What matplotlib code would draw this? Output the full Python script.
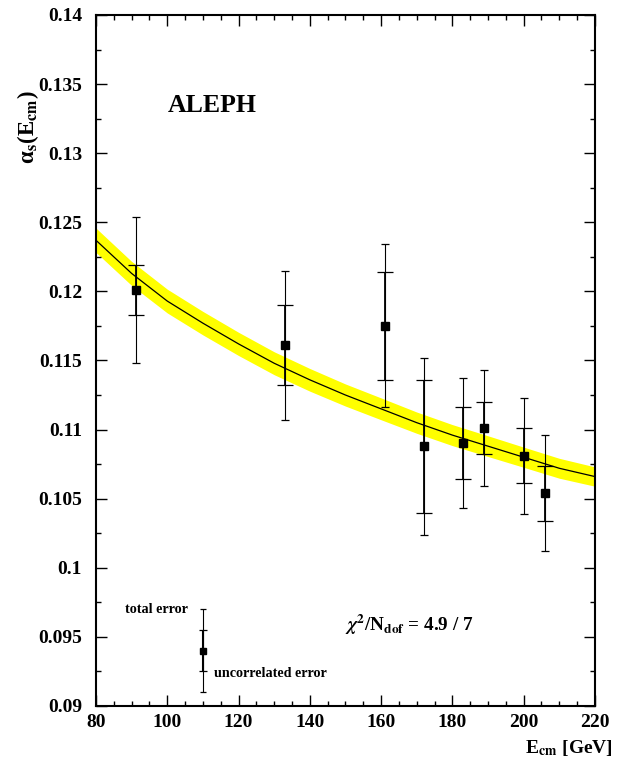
import matplotlib
matplotlib.use('Agg')
import matplotlib.pyplot as plt
from matplotlib.ticker import MultipleLocator, FormatStrFormatter

plt.rcParams['font.family'] = ['Liberation Serif', 'DejaVu Serif']
plt.rcParams['font.weight'] = 'bold'
plt.rcParams['mathtext.fontset'] = 'stix'

# 数据点 (E_cm, alpha_s, 总误差, 不相关误差)
energy = [91.2, 133.0, 161.0, 172.0, 183.0, 189.0, 200.0, 206.0]
alpha_s = [0.1201, 0.1161, 0.1175, 0.1088, 0.1090, 0.1101, 0.1081, 0.1054]
err_total = [0.0053, 0.0054, 0.0059, 0.0064, 0.0047, 0.0042, 0.0042, 0.0042]
err_uncorr = [0.0018, 0.0029, 0.0039, 0.0048, 0.0026, 0.0019, 0.0020, 0.0020]

# 拟合曲线和误差带
fit_e = [80, 90, 100, 110, 120, 130, 140, 150, 160, 170, 180, 190, 200, 210, 220]
fit_alpha = [0.1237, 0.1213, 0.1193, 0.1177, 0.1162, 0.1148, 0.1136, 0.1125,
             0.1115, 0.1105, 0.1096, 0.1088, 0.1080, 0.1072, 0.1066]
fit_band = [0.00088, 0.00087, 0.00086, 0.00085, 0.00084, 0.00083, 0.00082, 0.00080,
            0.00079, 0.00077, 0.00076, 0.00075, 0.00073, 0.00072, 0.00070]

# 图例用的示例点
legend_e = [110]
legend_alpha = [0.094]
legend_total = [0.003]
legend_uncorr = [0.0015]

fig = plt.figure(figsize=(6.18, 7.61), dpi=100)
ax = fig.add_axes([0.1553, 0.0723, 0.8074, 0.908])

lo = [a - b for a, b in zip(fit_alpha, fit_band)]
hi = [a + b for a, b in zip(fit_alpha, fit_band)]
ax.fill_between(fit_e, lo, hi, color='#ffff00', lw=0, zorder=1)
ax.plot(fit_e, fit_alpha, color='black', lw=0.9, zorder=2)

# 总误差（细线，小帽）和不相关误差（粗线，大帽）
ax.errorbar(energy, alpha_s, yerr=err_total, fmt='none', ecolor='black',
            elinewidth=0.8, capsize=3.0, capthick=0.9, zorder=3)
ax.errorbar(energy, alpha_s, yerr=err_uncorr, fmt='none', ecolor='black',
            elinewidth=1.3, capsize=5.6, capthick=0.9, zorder=4)
ax.plot(energy, alpha_s, 's', color='black', ms=5.4, zorder=5)

ax.errorbar(legend_e, legend_alpha, yerr=legend_total, fmt='none', ecolor='black',
            elinewidth=0.8, capsize=2.3, capthick=0.9, zorder=3)
ax.errorbar(legend_e, legend_alpha, yerr=legend_uncorr, fmt='none', ecolor='black',
            elinewidth=1.5, capsize=3.0, capthick=0.9, zorder=4)
ax.plot(legend_e, legend_alpha, 's', color='black', ms=4.5, zorder=5)

ax.set_xlim(80, 220)
ax.set_ylim(0.09, 0.14)
ax.xaxis.set_major_locator(MultipleLocator(20))
ax.xaxis.set_minor_locator(MultipleLocator(5))
ax.yaxis.set_major_locator(MultipleLocator(0.005))
ax.yaxis.set_minor_locator(MultipleLocator(0.0025))
ax.yaxis.set_major_formatter(FormatStrFormatter('%g'))

ax.tick_params(which='both', direction='in', top=True, right=True,
               labelsize=14, width=1.0)
ax.tick_params(which='major', length=8)
ax.tick_params(which='minor', length=3.8)
ax.tick_params(axis='y', pad=10)
ax.tick_params(axis='x', pad=6)
for lab in ax.get_xticklabels() + ax.get_yticklabels():
    lab.set_fontweight('bold')
for s in ax.spines.values():
    s.set_linewidth(1.5)

# 文字
ax.text(100, 0.1330, 'ALEPH', fontsize=18.5, fontweight='bold', va='baseline')
ax.text(150, 0.0954, r'$\chi^2$/N$_{\mathbf{dof}}$ = 4.9 / 7', fontsize=13.8,
        fontweight='bold', va='baseline')
ax.text(105.7, 0.0967, 'total error', fontsize=10.2, fontweight='bold',
        ha='right', va='baseline')
ax.text(113.1, 0.0921, 'uncorrelated error', fontsize=10.2, fontweight='bold',
        ha='left', va='baseline')

fig.text(613/618, 1 - 753/761, r'E$_{\mathbf{cm}}$ [GeV]', fontsize=14,
         fontweight='bold', ha='right', va='baseline')
fig.text(28/618, 1 - 127/761, 'α$_{\\mathbf{s}}$(E$_{\\mathbf{cm}}$)', fontsize=16.5,
         fontweight='bold', rotation=90, ha='center', va='center')

fig.savefig('out.png', dpi=100)
